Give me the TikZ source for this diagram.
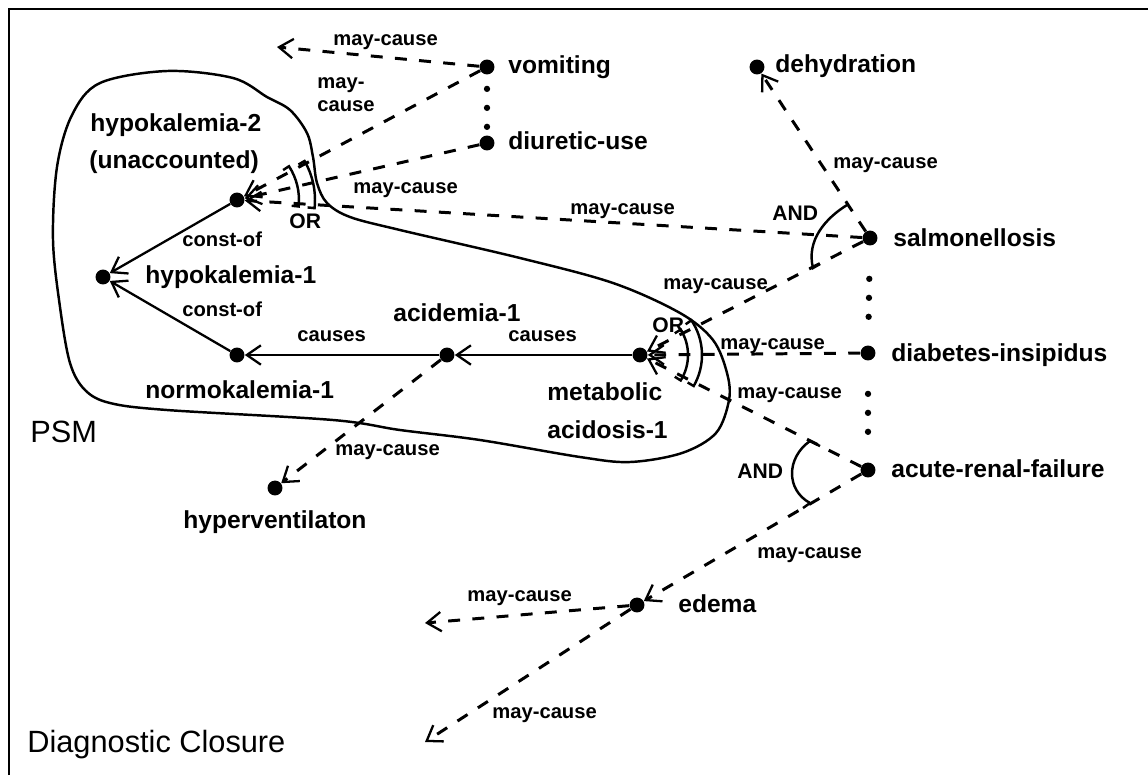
\documentclass[tikz,border=0pt]{standalone}
\usepackage{fontspec}
\setmainfont{Liberation Sans}
\usetikzlibrary{arrows.meta}
\tikzset{
 dot/.style={circle,fill=black,inner sep=0pt,minimum size=8.5pt},
 nlab/.style={anchor=base west,inner sep=0pt,font=\fontsize{14}{17}\selectfont\bfseries},
 elab/.style={anchor=base west,inner sep=0pt,font=\fontsize{11.5}{13}\selectfont\bfseries},
 glab/.style={anchor=base west,inner sep=0pt,font=\fontsize{12}{14}\selectfont\bfseries},
 biglab/.style={anchor=base west,inner sep=0pt,font=\fontsize{17.5}{21}\selectfont},
 tip/.style={-{Straight Barb[length=8pt,width=11pt,line width=1.3pt]}},
 solidedge/.style={line width=1.3pt,tip},
 mayedge/.style={line width=1.7pt,dash pattern=on 6.8pt off 7pt,tip},
 dotline/.style={line width=3.6pt,line cap=round,dash pattern=on 0pt off 10.8pt,dash phase=2.8pt},
 gate/.style={line width=1.4pt},
 psm/.style={line width=1.4pt},
 frame/.style={line width=1.7pt},
}
\newcommand\gatearc[4]{\draw[gate] ([shift={(#2:#3cm-0.14cm)}]#1.center) -- ([shift={(#2:#3cm)}]#1.center) arc[start angle=#2,end angle=#4,radius=#3cm] -- ([shift={(#4:#3cm-0.14cm)}]#1.center);}
\begin{document}
\begin{tikzpicture}[x=0.02cm,y=-0.02cm]
\useasboundingbox (0,0) rectangle (1148,775);
\draw[frame] (9,775) -- (9,9) -- (1148,9);

% PSM boundary
\draw[psm] plot[smooth cycle, tension=0.55] coordinates {(167,71) (233,78) (267,97) (290,110) (307,133) (313,157) (317,183) (327,203) (350,217) (400,230) (520,258) (613,283) (680,313) (713,340) (727,373) (729,400) (716,433) (682,453) (630,462) (580,457) (480,440) (400,430) (333,420) (167,410) (110,403) (85,390) (70,363) (60,307) (53,240) (57,167) (72,115) (100,83)};

% dots
\node[dot] (vom) at (487,67) {};
\node[dot] (diu) at (487,143) {};
\node[dot] (deh) at (757,67) {};
\node[dot] (sal) at (870,238) {};
\node[dot] (dia) at (868,353) {};
\node[dot] (arf) at (868,470) {};
\node[dot] (hy2) at (237,200) {};
\node[dot] (hy1) at (103,277) {};
\node[dot] (nor) at (237,355) {};
\node[dot] (aci) at (447,355) {};
\node[dot] (mac) at (640,355) {};
\node[dot] (hyv) at (275,488) {};
\node[dot] (ede) at (637,605) {};
\coordinate (f1) at (277,47);
\coordinate (f2) at (425,623);
\coordinate (f3) at (425,742);

% labels
\node[nlab] (l-vom) at (508,73) {vomiting};
\node[nlab] (l-diu) at (508,149) {diuretic-use};
\node[nlab] (l-deh) at (775,72) {dehydration};
\node[nlab] (l-sal) at (893,246) {salmonellosis};
\node[nlab] (l-dia) at (891,361) {diabetes-insipidus};
\node[nlab] (l-arf) at (891,477) {acute-renal-failure};
\node[nlab] (l-hy2a) at (90,131) {hypokalemia-2};
\node[nlab] (l-hy2b) at (89,168) {(unaccounted)};
\node[nlab] (l-hy1) at (145,283) {hypokalemia-1};
\node[nlab] (l-nor) at (145,398) {normokalemia-1};
\node[nlab] (l-aci) at (393,321) {acidemia-1};
\node[nlab] (l-maca) at (547,400) {metabolic};
\node[nlab] (l-macb) at (547,438) {acidosis-1};
\node[nlab] (l-hyv) at (183,528) {hyperventilaton};
\node[nlab] (l-ede) at (678,612) {edema};
\node[biglab] (l-psm) at (30,442) {PSM};
\node[biglab] (l-dc) at (27,752) {Diagnostic Closure};

% connectors
\draw[mayedge] (vom) -- (f1);
\draw[mayedge] (vom) -- (hy2);
\draw[mayedge] (diu) -- (hy2);
\draw[mayedge] (sal) -- (hy2);
\draw[mayedge] (sal) -- (deh);
\draw[mayedge] (sal) -- (mac);
\draw[mayedge] (dia) -- (mac);
\draw[mayedge] (arf) -- (mac);
\draw[mayedge] (arf) -- (ede);
\draw[mayedge] (ede) -- (f2);
\draw[mayedge] (ede) -- (f3);
\draw[mayedge] (aci) -- (hyv);
\draw[solidedge] (hy2) -- (hy1);
\draw[solidedge] (nor) -- (hy1);
\draw[solidedge] (aci) -- (nor);
\draw[solidedge] (mac) -- (aci);
\draw[dotline] (vom) -- (diu);
\draw[dotline,shorten <=10.8pt,shorten >=10pt] (sal) -- (dia);
\draw[dotline,shorten <=10.8pt,shorten >=10pt] (dia) -- (arf);

% gates
\gatearc{hy2}{-6}{1.24}{33}
\gatearc{hy2}{-6}{1.56}{30}
\gatearc{mac}{-32}{0.96}{32}
\gatearc{mac}{-30}{1.24}{34}
\draw[gate] (847,205) .. controls (826,218) and (806,240) .. (813,268) -- (820,264);
\draw[gate] (820,446) -- (810,441) .. controls (786,458) and (786,490) .. (810,503) -- (803,508);

% edge labels
\node[elab] (e1) at (333,45) {may-cause};
\node[elab] (e2a) at (317,88) {may-};
\node[elab] (e2b) at (317,111) {cause};
\node[elab] (e3) at (353,193) {may-cause};
\node[elab] (e4) at (570,214) {may-cause};
\node[elab] (e5) at (182,246) {const-of};
\node[elab] (e6) at (182,316) {const-of};
\node[elab] (e7) at (297,341) {causes};
\node[elab] (e8) at (508,341) {causes};
\node[elab] (e9) at (335,455) {may-cause};
\node[elab] (e10) at (833,168) {may-cause};
\node[elab] (e11) at (663,289) {may-cause};
\node[elab] (e12) at (720,349) {may-cause};
\node[elab] (e13) at (737,398) {may-cause};
\node[elab] (e14) at (757,558) {may-cause};
\node[elab] (e15) at (467,601) {may-cause};
\node[elab] (e16) at (492,718) {may-cause};
\node[glab] (g1) at (289,228) {OR};
\node[glab] (g2) at (652,332) {OR};
\node[glab] (g3) at (772,220) {AND};
\node[glab] (g4) at (737,478) {AND};
\end{tikzpicture}
\end{document}
